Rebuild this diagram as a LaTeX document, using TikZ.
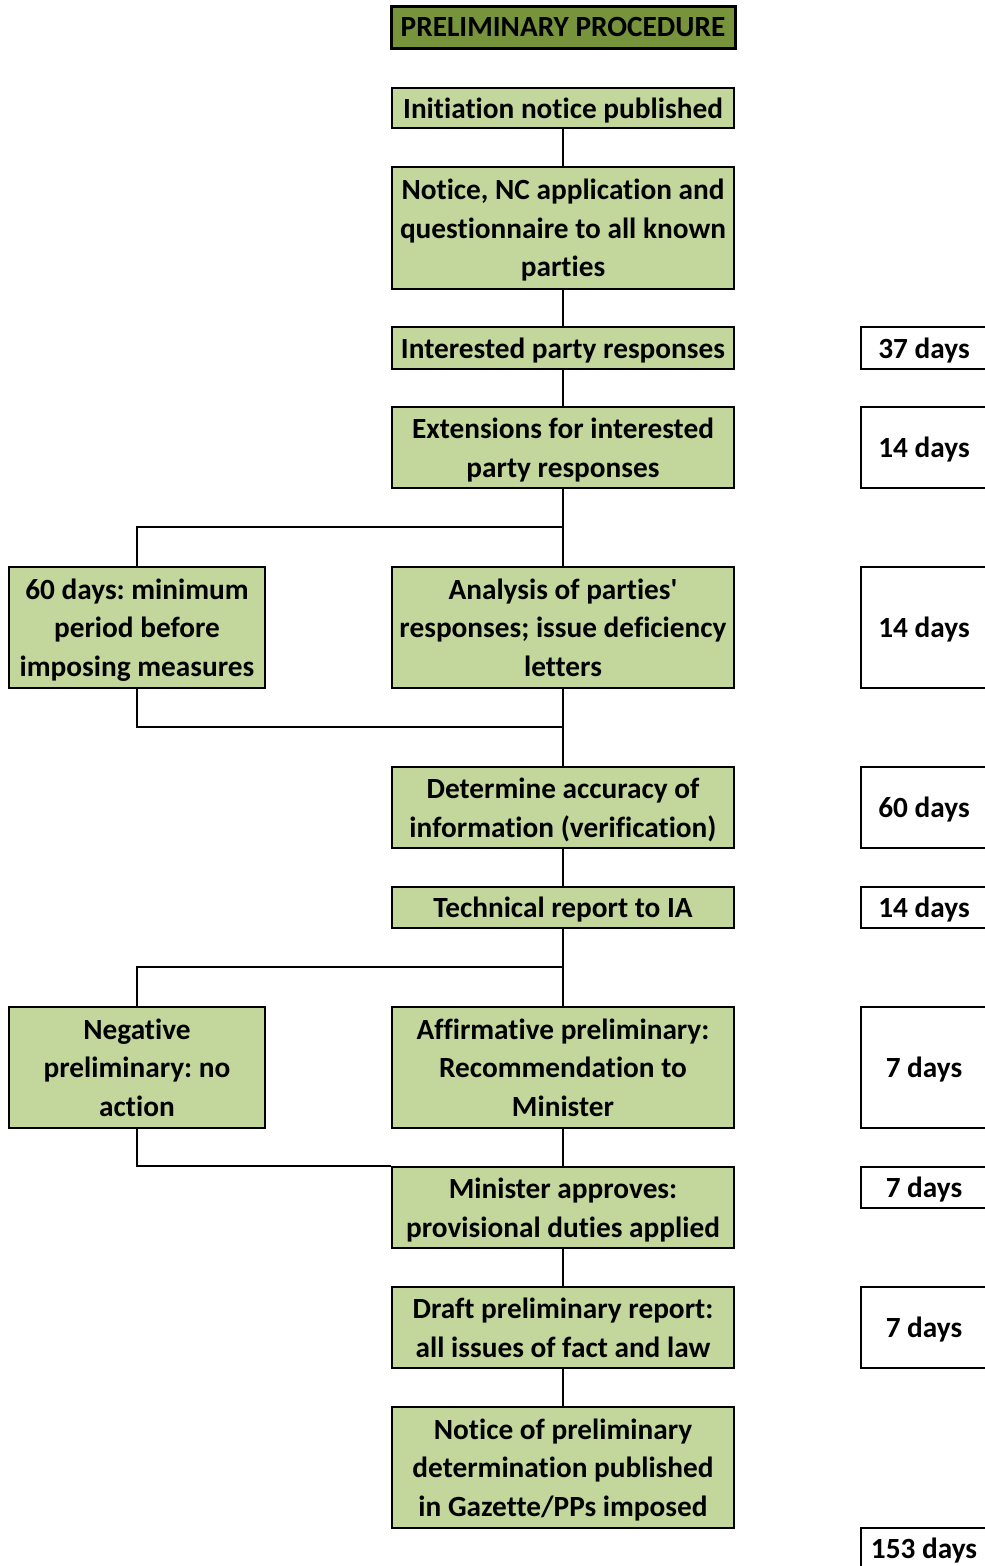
\documentclass[tikz,border=0pt]{standalone}
\usepackage{fontspec}
\setmainfont{Carlito}[Ligatures={TeXOff,NoCommon}]
\frenchspacing
\definecolor{boxgreen}{RGB}{195,214,155}
\definecolor{titlegreen}{RGB}{119,147,60}
\begin{document}
\begin{tikzpicture}[x=1pt,y=-1pt,
  boxtext/.style={align=center, inner sep=0pt, text depth=-1.5pt, font=\bfseries\fontsize{29.3}{38.5}\selectfont},
  stepbox/.style={boxtext, draw=black, line width=2.5pt, fill=boxgreen, minimum width=342pt},
  sidebox/.style={stepbox, minimum width=256pt},
  titlebox/.style={boxtext, draw=black, line width=3pt, fill=titlegreen, minimum width=344pt, minimum height=42pt},
  daybox/.style={boxtext, draw=black, line width=2.5pt, fill=white, minimum width=126pt},
  link/.style={draw=black, line width=2.5pt}]
\clip (0,0) rectangle (985,1566);
\useasboundingbox (0,0) rectangle (985,1566);

% title
\node[titlebox] (title) at (563,27) {PRELIMINARY PROCEDURE};

% main column
\node[stepbox, minimum height=40pt]  (init)     at (563,108)    {Initiation notice published};
\node[stepbox, minimum height=122pt] (notice)   at (563,228)    {Notice, NC application and\\questionnaire to all known\\parties};
\node[stepbox, minimum height=42pt]  (resp)     at (563,348)    {Interested party responses};
\node[stepbox, minimum height=81pt]  (ext)      at (563,447.5)  {Extensions for interested\\party responses};
\node[stepbox, minimum height=121pt] (analysis) at (563,627.5)  {Analysis of parties'\\responses; issue deficiency\\letters};
\node[stepbox, minimum height=81pt]  (verify)   at (563,807.5)  {Determine accuracy of\\information (verification)};
\node[stepbox, minimum height=41pt]  (tech)     at (563,907.5)  {Technical report to IA};
\node[stepbox, minimum height=121pt] (affirm)   at (563,1067.5) {Affirmative preliminary:\\Recommendation to\\Minister};
\node[stepbox, minimum height=81pt]  (minister) at (563,1207.5) {Minister approves:\\provisional duties applied};
\node[stepbox, minimum height=81pt]  (draft)    at (563,1327.5) {Draft preliminary report:\\all issues of fact and law};
\node[stepbox, minimum height=121pt] (gazette)  at (563,1467.5) {Notice of preliminary\\determination published\\in Gazette/PPs imposed};

% side branches
\node[sidebox, minimum height=121pt] (minper) at (137,627.5)  {60 days: minimum\\period before\\imposing measures};
\node[sidebox, minimum height=121pt] (neg)    at (137,1067.5) {Negative\\preliminary: no\\action};

% durations
\node[daybox, minimum height=42pt]  (d1) at (924,348)    {37 days};
\node[daybox, minimum height=81pt]  (d2) at (924,447.5)  {14 days};
\node[daybox, minimum height=121pt] (d3) at (924,627.5)  {14 days};
\node[daybox, minimum height=81pt]  (d4) at (924,807.5)  {60 days};
\node[daybox, minimum height=41pt]  (d5) at (924,907.5)  {14 days};
\node[daybox, minimum height=121pt] (d6) at (924,1067.5) {7 days};
\node[daybox, minimum height=41pt]  (d7) at (924,1187.5) {7 days};
\node[daybox, minimum height=81pt]  (d8) at (924,1327.5) {7 days};
\node[daybox, minimum height=41pt]  (d9) at (924,1548.5) {153 days};

% junctions
\coordinate (j1) at (563,527);
\coordinate (j2) at (563,727);
\coordinate (j3) at (563,967);

% connectors
\draw[link] (init) -- (notice);
\draw[link] (notice) -- (resp);
\draw[link] (resp) -- (ext);
\draw[link] (ext) -- (analysis);
\draw[link] (j1) -| (minper);
\draw[link] (minper) |- (j2);
\draw[link] (analysis) -- (verify);
\draw[link] (verify) -- (tech);
\draw[link] (tech) -- (affirm);
\draw[link] (j3) -| (neg);
\draw[link] (neg) |- (minister.north west);
\draw[link] (affirm) -- (minister);
\draw[link] (minister) -- (draft);
\draw[link] (draft) -- (gazette);
\end{tikzpicture}
\end{document}
